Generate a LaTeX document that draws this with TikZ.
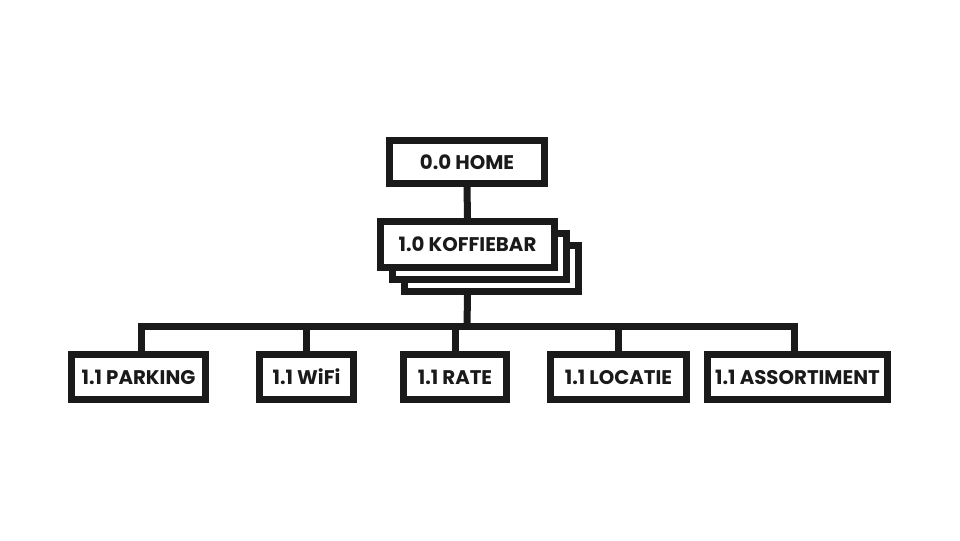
\documentclass[tikz,border=0pt]{standalone}
\usepackage{fontspec}
\setmainfont{Poppins}
\usetikzlibrary{positioning}
\definecolor{inkdark}{HTML}{1A1A1A}
\tikzset{
        pagenode/.style={align=center,inner sep=0pt,font=\bfseries\fontsize{14.8pt}{17pt}\selectfont,text=inkdark},
        % Page boxes
        box_page/.style={pagenode, rectangle, draw=inkdark, fill=white, line width=5.25pt, minimum height=33.75pt},
        % Stacked copies behind the section box
        box_stack/.style={box_page, minimum width=130.5pt, minimum height=34.5pt},
        % Connectors
        link/.style={draw=inkdark, line width=5.25pt}
}
\begin{document}
\begin{tikzpicture}[x=0.75pt,y=-0.75pt]
    \useasboundingbox (0,0) rectangle (960,540);
    % root
    \node[box_page, minimum width=116.25pt, minimum height=32.25pt] (home) at (467,162) {0.0 HOME};
    % section with stacked copies
    \node[box_stack] (kbc) at (491.5,268.5) {};
    \node[box_stack] (kbb) at (479.5,256.5) {};
    \node[box_stack] (kb) at (467.5,244.5) {1.0 KOFFIEBAR};
    % sub pages
    \node[box_page, minimum width=100.5pt] (parking) at (138.5,377) {1.1 PARKING};
    \node[box_page, minimum width=70.5pt] (wifi) at (306.5,377) {1.1 WiFi};
    \node[box_page, minimum width=77.25pt] (rate) at (455,377) {1.1 RATE};
    \node[box_page, minimum width=102pt] (locatie) at (618.5,377) {1.1 LOCATIE};
    \node[box_page, minimum width=135pt] (assortiment) at (797.5,377) {1.1 ASSORTIMENT};
    \coordinate (bus) at (467,326);
    % connectors
    \draw[link] (home.south) -- (kb.north);
    \draw[link] (kbc.south -| kb) -- (bus);
    \draw[link] ([xshift=2.5]parking.north) |- (bus) -| ([xshift=-2.5]assortiment.north);
    \draw[link] (wifi.north) -- (wifi.north |- bus);
    \draw[link] (rate.north) -- (rate.north |- bus);
    \draw[link] (locatie.north) -- (locatie.north |- bus);
\end{tikzpicture}
\end{document}
